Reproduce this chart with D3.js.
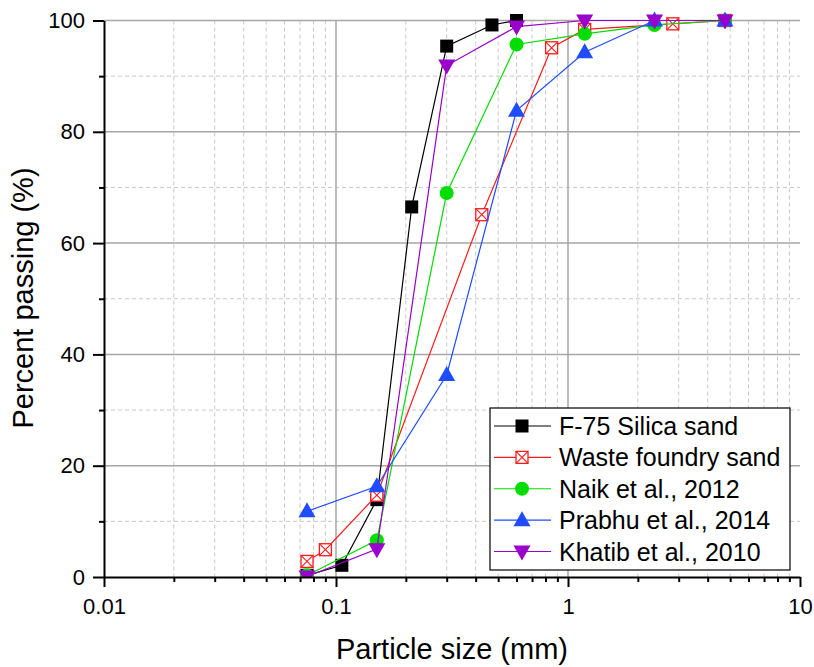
<!DOCTYPE html>
<html>
<head>
<meta charset="utf-8">
<script src="https://cdn.jsdelivr.net/npm/d3@7"></script>
<style>
  body { margin: 0; background: #fff; }
  svg { display: block; font-family: "Liberation Sans", Arial, sans-serif; }
  .grid-major line { stroke: #a6a6a6; stroke-width: 1.5; }
  .grid-minor line { stroke: #c8c8c8; stroke-width: 1; stroke-dasharray: 4,3; }
  .axis path, .axis line { stroke: #000; stroke-width: 2; }
  .axis text { font-size: 22px; fill: #000; }
</style>
</head>
<body>
<svg id="chart" width="814" height="667"></svg>
<script>
// Sieve sizes (mm) and percent passing
const silicaSize   = [0.075, 0.106, 0.15, 0.212, 0.3, 0.47, 0.6];
const silicaPass   = [0.3, 2.1, 13.9, 66.5, 95.4, 99.2, 100];

const foundrySize  = [0.075, 0.09, 0.15, 0.425, 0.85, 1.18, 2.83, 4.75];
const foundryPass  = [2.8, 4.9, 14.7, 65.1, 95.1, 98.4, 99.4, 100];

const naikSize     = [0.075, 0.15, 0.3, 0.6, 1.18, 2.36, 4.75];
const naikPass     = [0.3, 6.6, 69.0, 95.7, 97.6, 99.2, 100];

const prabhuSize   = [0.075, 0.15, 0.3, 0.6, 1.18, 2.36, 4.75];
const prabhuPass   = [11.8, 16.3, 36.3, 83.8, 94.3, 100, 100];

const khatibSize   = [0.075, 0.15, 0.3, 0.6, 1.18, 2.36, 4.75];
const khatibPass   = [0.1, 5.0, 91.9, 98.9, 100, 100, 100];

const seriesNames  = ["F-75 Silica sand", "Waste foundry sand", "Naik et al., 2012", "Prabhu et al., 2014", "Khatib et al., 2010"];

const xTicks      = [0.01, 0.1, 1, 10];
const xTickLabels = ["0.01", "0.1", "1", "10"];
const yTicks      = [0, 20, 40, 60, 80, 100];
const yMinorTicks = [10, 30, 50, 70, 90];

// 1. Build series list
const series = [
  { name: seriesNames[0], xs: silicaSize,  ys: silicaPass,  color: "#000000", shape: "square" },
  { name: seriesNames[1], xs: foundrySize, ys: foundryPass, color: "#ff1a1a", shape: "xsquare" },
  { name: seriesNames[2], xs: naikSize,    ys: naikPass,    color: "#00dd00", shape: "circle" },
  { name: seriesNames[3], xs: prabhuSize,  ys: prabhuPass,  color: "#1f4cff", shape: "up" },
  { name: seriesNames[4], xs: khatibSize,  ys: khatibPass,  color: "#9900cc", shape: "down" }
];

// 2. Layout and scales
const svg = d3.select("#chart");
const margin = { left: 104, top: 20.5, right: 14, bottom: 90 };
const W = 814 - margin.left - margin.right;
const H = 667 - margin.top - margin.bottom;

const x = d3.scaleLog().domain([0.01, 10]).range([0, W]);
const y = d3.scaleLinear().domain([0, 100]).range([H, 0]);

const g = svg.append("g").attr("transform", `translate(${margin.left},${margin.top})`);

// minor log positions 2..9 inside each decade
const xMinor = [];
[0.01, 0.1, 1].forEach(d => { for (let k = 2; k <= 9; k++) xMinor.push(d * k); });

// 3. Gridlines (dashed minor, solid major)
const gMinor = g.append("g").attr("class", "grid-minor");
gMinor.selectAll(".vx").data(xMinor).enter().append("line")
  .attr("x1", d => x(d)).attr("x2", d => x(d)).attr("y1", 0).attr("y2", H);
gMinor.selectAll(".hy").data(yMinorTicks).enter().append("line")
  .attr("x1", 0).attr("x2", W).attr("y1", d => y(d)).attr("y2", d => y(d));

const gMajor = g.append("g").attr("class", "grid-major");
gMajor.selectAll(".vx").data([0.1, 1]).enter().append("line")
  .attr("x1", d => x(d)).attr("x2", d => x(d)).attr("y1", 0).attr("y2", H);
gMajor.selectAll(".hy").data(yTicks.filter(d => d > 0)).enter().append("line")
  .attr("x1", 0).attr("x2", W).attr("y1", d => y(d)).attr("y2", d => y(d));

// 4. Clip so nothing shows below the x axis
svg.append("defs").append("clipPath").attr("id", "plotClip")
  .append("rect").attr("x", -40).attr("y", -40).attr("width", W + 80).attr("height", H + 40);

// marker drawing helper
function drawMarker(sel, shape, color) {
  if (shape === "square") {
    sel.append("path").attr("d", d3.symbol(d3.symbolSquare, 169)()).attr("fill", color);
  } else if (shape === "xsquare") {
    const s = 6;
    sel.append("rect").attr("x", -s).attr("y", -s).attr("width", 2 * s).attr("height", 2 * s)
      .attr("fill", "#fff").attr("stroke", color).attr("stroke-width", 1.3);
    sel.append("path").attr("d", `M${-s},${-s}L${s},${s}M${s},${-s}L${-s},${s}`)
      .attr("stroke", color).attr("stroke-width", 1.1);
  } else if (shape === "circle") {
    sel.append("circle").attr("r", 7).attr("fill", color);
  } else if (shape === "up") {
    sel.append("path").attr("d", "M0,-9L8.5,6L-8.5,6Z").attr("fill", color);
  } else if (shape === "down") {
    sel.append("path").attr("d", "M0,9L8.5,-6L-8.5,-6Z").attr("fill", color);
  }
}

// 5. Lines and markers
const gData = g.append("g").attr("clip-path", "url(#plotClip)");
const line = d3.line().x(d => x(d[0])).y(d => y(d[1]));

series.forEach(s => {
  const pts = s.xs.map((v, i) => [v, s.ys[i]]);
  gData.append("path").datum(pts)
    .attr("d", line).attr("fill", "none")
    .attr("stroke", s.color).attr("stroke-width", 1.2);
  const m = gData.selectAll(null).data(pts).enter().append("g")
    .attr("transform", d => `translate(${x(d[0])},${y(d[1])})`);
  drawMarker(m, s.shape, s.color);
});

// 6. Axes
g.append("g").attr("class", "axis").attr("transform", `translate(0,${H})`)
  .call(d3.axisBottom(x).tickValues(xTicks).tickFormat((d, i) => xTickLabels[i])
    .tickSize(10).tickSizeOuter(0).tickPadding(11));
g.append("g").attr("class", "axis").attr("transform", `translate(0,${H})`)
  .call(d3.axisBottom(x).tickValues(xMinor).tickFormat("").tickSize(5).tickSizeOuter(0))
  .select(".domain").remove();

g.append("g").attr("class", "axis")
  .call(d3.axisLeft(y).tickValues(yTicks).tickSize(11).tickSizeOuter(0).tickPadding(8));
g.append("g").attr("class", "axis")
  .call(d3.axisLeft(y).tickValues(yMinorTicks).tickFormat("").tickSize(5).tickSizeOuter(0))
  .select(".domain").remove();

// axis titles
svg.append("text")
  .attr("x", margin.left + W / 2).attr("y", 659)
  .attr("text-anchor", "middle").attr("font-size", 29)
  .text("Particle size (mm)");

svg.append("text")
  .attr("transform", "translate(33,298) rotate(-90)")
  .attr("text-anchor", "middle").attr("font-size", 29)
  .text("Percent passing (%)");

// 7. Legend
const legend = svg.append("g").attr("transform", "translate(490,408)");
legend.append("rect").attr("width", 300).attr("height", 162)
  .attr("fill", "#fff").attr("stroke", "#000").attr("stroke-width", 1.2);

const rowY = d3.scalePoint().domain(seriesNames).range([18, 143.5]);
series.forEach(s => {
  const row = legend.append("g").attr("transform", `translate(0,${rowY(s.name)})`);
  row.append("line").attr("x1", 4).attr("x2", 61).attr("y1", 0).attr("y2", 0)
    .attr("stroke", s.color).attr("stroke-width", 1.2);
  const m = row.append("g").attr("transform", "translate(32,0)");
  drawMarker(m, s.shape, s.color);
  row.append("text").attr("x", 69).attr("y", 9)
    .attr("font-size", 25).text(s.name);
});
</script>
</body>
</html>
